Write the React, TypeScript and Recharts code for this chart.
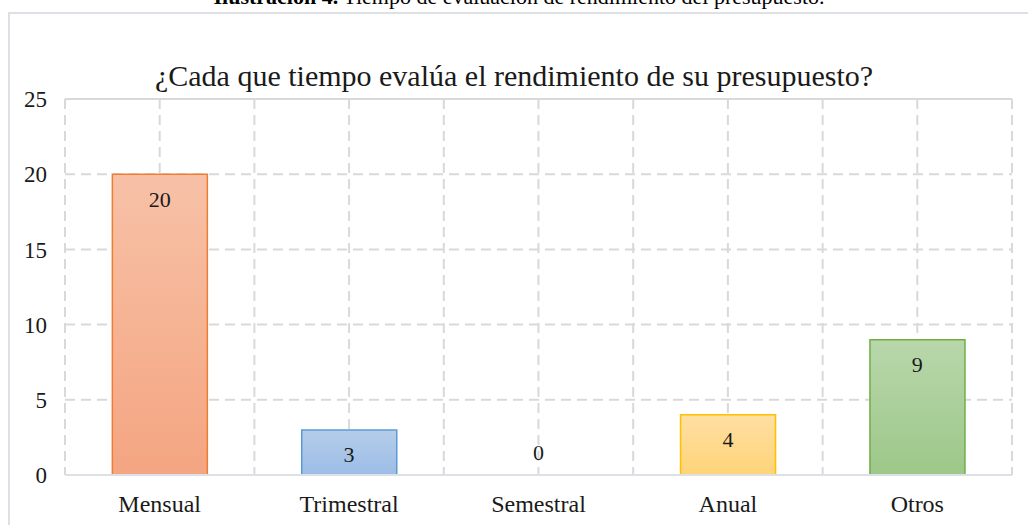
import { ComposedChart, Bar, Line, XAxis, YAxis, CartesianGrid, Cell, LabelList, ReferenceLine } from "recharts";

const categories = ["Mensual", "Trimestral", "Semestral", "Anual", "Otros"];
const responses = [20, 3, 0, 4, 9];
const yTicks = [0, 5, 10, 15, 20, 25];

const FILL_TOP = ["#f7c1a7", "#b5cdea", "#ffdfa2", "#b8d7ab"];
const FILL_BOTTOM = ["#f4a581", "#9cbde6", "#fed479", "#9dc889"];
const STROKES = ["#ed7d31", "#5b9bd5", "#ffc000", "#70ad47"];
// bar index -> colour slot (Semestral has no visible bar)
const colourSlot = [0, 1, 1, 2, 3];

const data = categories.map((name, i) => ({ name, value: responses[i] }));

const FONT = "'Liberation Serif', 'Times New Roman', serif";

// labels sit inside the top of the bar, or just above the axis when the bar is empty
function renderLabel(props: any) {
  const { x, y, value } = props;
  const cy = value > 0 ? y + 25 : y - 23;
  return (
    <text
      x={x}
      y={cy}
      textAnchor="middle"
      dominantBaseline="central"
      fontFamily={FONT}
      fontSize={22}
      fill="#1a1a1a"
    >
      {value}
    </text>
  );
}

export default function App() {
  return (
    <div style={{ position: "fixed", left: 0, top: 0, width: 1028, height: 525, overflow: "hidden", background: "#fff", fontFamily: FONT }}>
      <div
        style={{
          position: "absolute",
          left: 0,
          top: -14,
          width: 1038,
          textAlign: "center",
          fontSize: 22,
          lineHeight: "22px",
          color: "#000",
        }}
      >
        <b>Ilustración 4.</b> Tiempo de evaluación de rendimiento del presupuesto.
      </div>
      <div
        style={{
          position: "absolute",
          left: 8,
          top: 12,
          width: 1040,
          height: 540,
          border: "2px solid #dde1e6",
          boxSizing: "border-box",
        }}
      />
      <div
        style={{
          position: "absolute",
          left: 0,
          top: 61,
          width: 1028,
          textAlign: "center",
          fontSize: 30,
          lineHeight: "30px",
          color: "#1a1a1a",
        }}
      >
        ¿Cada que tiempo evalúa el rendimiento de su presupuesto?
      </div>
      <div style={{ position: "absolute", left: 0, top: 0 }}>
        <ComposedChart
          width={1028}
          height={525}
          data={data}
          margin={{ top: 99, right: 16, left: 5, bottom: 20 }}
          barCategoryGap="25%"
        >
          <defs>
            {FILL_TOP.map((c, i) => (
              <linearGradient key={i} id={`grad${i}`} x1="0" y1="0" x2="0" y2="1">
                <stop offset="0%" stopColor={c} />
                <stop offset="100%" stopColor={FILL_BOTTOM[i]} />
              </linearGradient>
            ))}
          </defs>
          <CartesianGrid
            stroke="#d9d9d9"
            strokeWidth={2}
            strokeDasharray="10 6"
            verticalCoordinatesGenerator={({ offset }: any) =>
              Array.from({ length: 11 }, (_, i) => offset.left + (i * offset.width) / 10)
            }
          />
          <ReferenceLine y={25} stroke="#d9d9d9" strokeWidth={2} />
          <XAxis
            dataKey="name"
            height={30}
            tickSize={0}
            tickMargin={20}
            axisLine={{ stroke: "#dde1e6", strokeWidth: 2 }}
            tickLine={false}
            tick={{ fill: "#1a1a1a", fontSize: 24, fontFamily: FONT }}
          />
          <YAxis
            width={60}
            domain={[0, 25]}
            ticks={yTicks}
            tickSize={0}
            tickMargin={18}
            axisLine={false}
            tickLine={false}
            tick={{ fill: "#1a1a1a", fontSize: 23, fontFamily: FONT }}
          />
          <Bar dataKey="value" isAnimationActive={false} strokeWidth={1.5}>
            {data.map((d, i) => (
              <Cell
                key={d.name}
                fill={`url(#grad${colourSlot[i]})`}
                stroke={d.value > 0 ? STROKES[colourSlot[i]] : "none"}
              />
            ))}
          </Bar>
          <Line
            dataKey="value"
            stroke="none"
            dot={false}
            activeDot={false}
            isAnimationActive={false}
            legendType="none"
          >
            <LabelList dataKey="value" content={renderLabel} />
          </Line>
        </ComposedChart>
      </div>
    </div>
  );
}
